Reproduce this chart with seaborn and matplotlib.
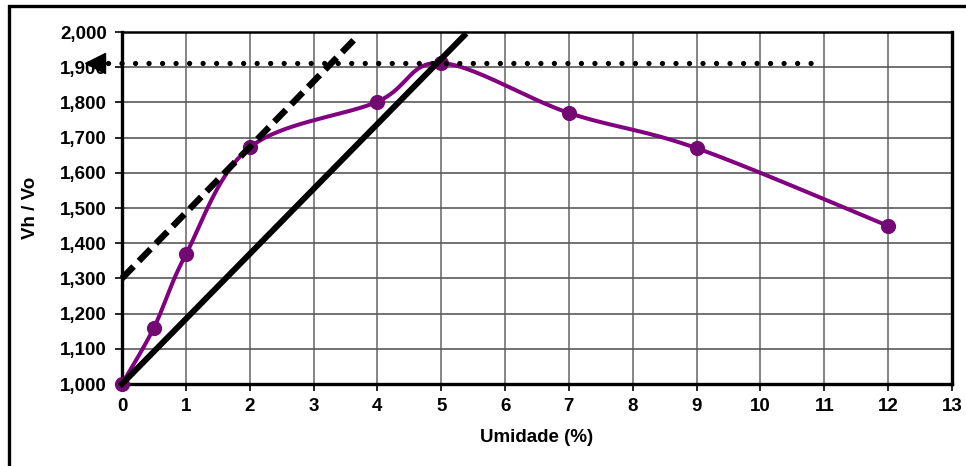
import numpy as np
import pandas as pd
import matplotlib
matplotlib.use("Agg")
import matplotlib.pyplot as plt
import seaborn as sns
from matplotlib.patches import Rectangle

# Measured points: moisture (%) vs. swelling ratio Vh/Vo
umidade = [0, 0.5, 1, 2, 4, 5, 7, 9, 12]
vh_vo = [1.000, 1.160, 1.368, 1.672, 1.802, 1.912, 1.770, 1.670, 1.449]

# Construction lines
tangente_x = [0, 3.70]
tangente_y = [1.300, 1.990]
origem_x = [0, 5.36]
origem_y = [1.000, 1.990]
maximo_x = [-0.22, 10.87]
maximo_y = [1.912, 1.912]
seta_x = [-0.43]
seta_y = [1.912]

x_ticks = list(range(0, 14))
y_ticks = [1.0, 1.1, 1.2, 1.3, 1.4, 1.5, 1.6, 1.7, 1.8, 1.9, 2.0]
y_tick_labels = ["1,000", "1,100", "1,200", "1,300", "1,400", "1,500",
                 "1,600", "1,700", "1,800", "1,900", "2,000"]


def smooth(xs, ys, steps=40):
    """Smoothed curve through the points (cubic Bezier, Catmull-Rom tangents)."""
    P = np.column_stack([xs, ys]).astype(float)
    ext = np.vstack([P[0], P, P[-1]])
    t = np.linspace(0, 1, steps + 1)[1:, None]
    out = [P[:1]]
    for i in range(len(P) - 1):
        p0, p1, p2, p3 = ext[i], ext[i + 1], ext[i + 2], ext[i + 3]
        c1 = p1 + (p2 - p0) / 6.0
        c2 = p2 - (p3 - p1) / 6.0
        seg = ((1 - t) ** 3) * p1 + 3 * ((1 - t) ** 2) * t * c1 \
            + 3 * (1 - t) * t ** 2 * c2 + t ** 3 * p2
        out.append(seg)
    return np.vstack(out)


sns.set_style("white")
plt.rcParams["font.family"] = ["Liberation Sans", "DejaVu Sans"]
plt.rcParams["font.weight"] = "bold"
plt.rcParams["text.color"] = "black"
plt.rcParams["axes.labelcolor"] = "black"
plt.rcParams["xtick.color"] = "black"
plt.rcParams["ytick.color"] = "black"

W, H = 966, 466
fig = plt.figure(figsize=(W / 100, H / 100), dpi=100)
fig.subplots_adjust(left=122 / W, right=952 / W, top=1 - 32 / H, bottom=1 - 384 / H)
ax = fig.add_subplot(111)

curve = smooth(umidade, vh_vo)
df_curve = pd.DataFrame({"Umidade": curve[:, 0], "Vh/Vo": curve[:, 1]})
df_pts = pd.DataFrame({"Umidade": umidade, "Vh/Vo": vh_vo})

purple = "#800080"
sns.lineplot(data=df_curve, x="Umidade", y="Vh/Vo", sort=False, color=purple,
             linewidth=2.9, ax=ax, zorder=3)
sns.scatterplot(data=df_pts, x="Umidade", y="Vh/Vo", color="#730a73", s=120,
                edgecolor="#730a73", linewidth=0, ax=ax, zorder=4, clip_on=False)

# Tangent (dashed), line through origin (solid) and maximum level (dotted)
ax.plot(tangente_x, tangente_y, color="black", linewidth=4.6,
        linestyle=(0, (2.6, 1.2)), solid_capstyle="butt", dash_capstyle="butt",
        zorder=5, clip_on=False)
ax.plot(origem_x, origem_y, color="black", linewidth=4.3,
        solid_capstyle="projecting", zorder=5, clip_on=False)
ax.plot(maximo_x, maximo_y, color="black", linewidth=3.8,
        linestyle=(0, (0.01, 2.55)), dash_capstyle="round", zorder=5, clip_on=False)
ax.plot(seta_x, seta_y, marker="<", markersize=15, color="black",
        linestyle="none", zorder=6, clip_on=False)

ax.set_xlim(0, 13)
ax.set_ylim(1.0, 2.0)
ax.set_xticks(x_ticks)
ax.set_xticklabels([str(v) for v in x_ticks])
ax.set_yticks(y_ticks)
ax.set_yticklabels(y_tick_labels)

for lab in ax.get_xticklabels() + ax.get_yticklabels():
    lab.set_fontsize(13.5)
    lab.set_fontweight("bold")
    lab.set_color("black")

ax.tick_params(axis="both", direction="out", length=5, width=1.2, color="black",
               labelcolor="black", left=True, bottom=True)
ax.tick_params(axis="y", pad=6)
ax.tick_params(axis="x", pad=5)

ax.grid(False)
for xv in x_ticks[1:-1]:
    ax.axvline(xv, color="#707070", linewidth=1.2, zorder=1)
for yv in y_ticks[1:-1]:
    ax.axhline(yv, color="#5a5a5a", linewidth=1.2, zorder=1)

for side, lw in (("left", 2.4), ("bottom", 2.4), ("right", 2.4), ("top", 1.8)):
    ax.spines[side].set_visible(True)
    ax.spines[side].set_color("black")
    ax.spines[side].set_linewidth(lw)

ax.set_xlabel("Umidade (%)", fontsize=13.5, fontweight="bold", color="black")
ax.set_ylabel("Vh / Vo", fontsize=13.5, fontweight="bold", color="black")
ax.xaxis.set_label_coords(0.5, (384 - 438) / 352)
ax.xaxis.label.set_va("center")
ax.yaxis.set_label_coords((31 - 122) / 830, 0.5)
ax.yaxis.label.set_va("center")

# Figure frame
fig.add_artist(Rectangle((9 / W, -0.1), 1.2, 1.1 - 6 / H, transform=fig.transFigure,
                         fill=False, edgecolor="black", linewidth=2.4))

fig.savefig("out.png", dpi=100)
